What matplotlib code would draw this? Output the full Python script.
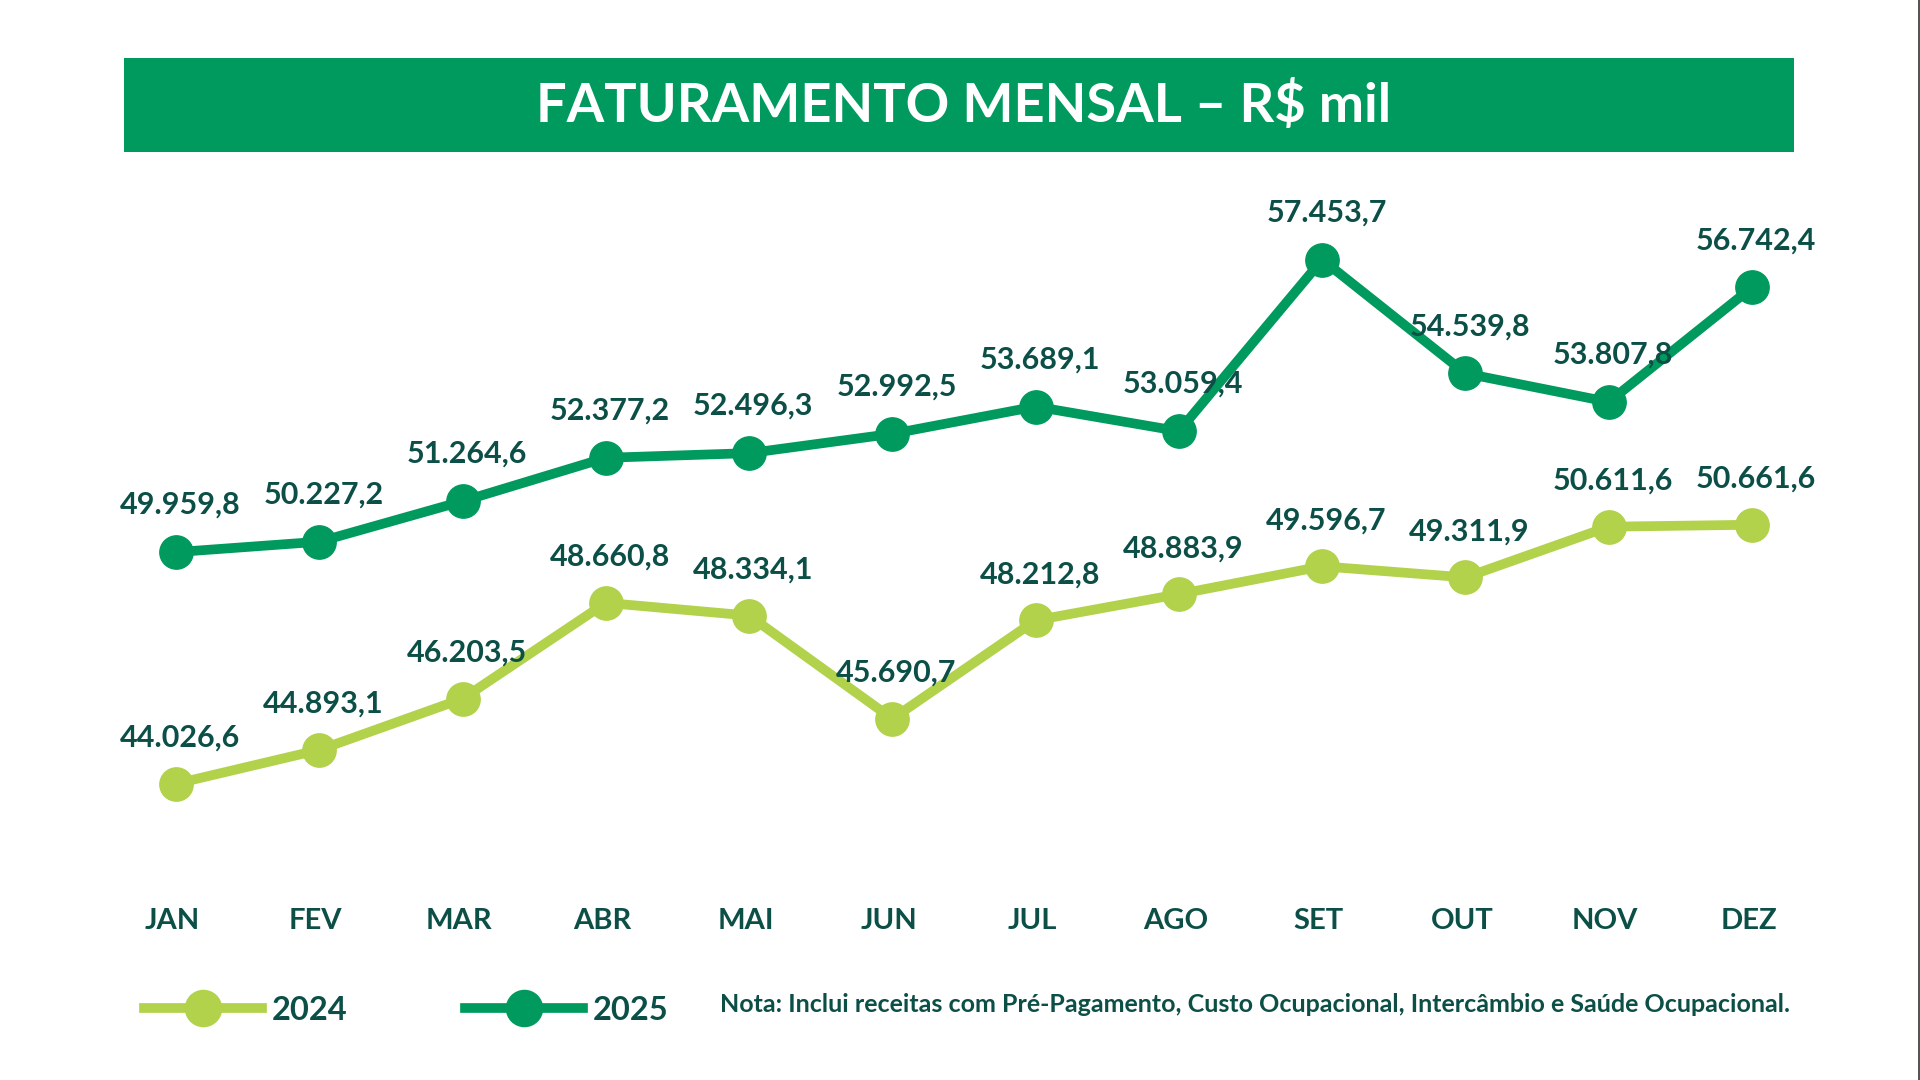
import matplotlib
matplotlib.use("Agg")
import matplotlib.pyplot as plt
from matplotlib.patches import Rectangle
from matplotlib.lines import Line2D

# data (R$ mil)
months = ["JAN", "FEV", "MAR", "ABR", "MAI", "JUN", "JUL", "AGO", "SET", "OUT", "NOV", "DEZ"]
vals_2024 = [44026.6, 44893.1, 46203.5, 48660.8, 48334.1, 45690.7,
             48212.8, 48883.9, 49596.7, 49311.9, 50611.6, 50661.6]
vals_2025 = [49959.8, 50227.2, 51264.6, 52377.2, 52496.3, 52992.5,
             53689.1, 53059.4, 57453.7, 54539.8, 53807.8, 56742.4]
series_names = ["2024", "2025"]

# colours
GREEN = "#009a5e"
LIME = "#b1d24a"
TEXT = "#0b4f47"

plt.rcParams["font.family"] = ["Lato", "DejaVu Sans"]

def fmt_br(v):
    # brazilian style: 49.959,8
    s = f"{v:,.1f}"
    return s.replace(",", "X").replace(".", ",").replace("X", ".")

fig = plt.figure(figsize=(19.2, 10.8), dpi=100)
fig.patch.set_facecolor("white")

# title bar
fig.patches.append(Rectangle((124 / 1920, 1 - 152 / 1080), 1670 / 1920, 94 / 1080,
                             transform=fig.transFigure, facecolor=GREEN,
                             edgecolor="none", zorder=0))
fig.text(964 / 1920, 1 - 105 / 1080, "FATURAMENTO MENSAL – R$ mil", color="white",
         fontsize=39, fontweight="bold", ha="center", va="center")

ax = fig.add_axes([124 / 1920, (1080 - 850) / 1080, 1670 / 1920, 650 / 1080])
ax.set_xlim(-0.363, 11.293)
ax.set_ylim(42328, 58982)
ax.axis("off")

x = list(range(len(months)))
ax.plot(x, vals_2024, color=LIME, lw=7, marker="o", ms=24, zorder=2,
        solid_capstyle="round")
ax.plot(x, vals_2025, color=GREEN, lw=7, marker="o", ms=24, zorder=3,
        solid_capstyle="round")

for xi, v in zip(x, vals_2024):
    ax.annotate(fmt_br(v), (xi, v), xytext=(3, 33), textcoords="offset points",
                ha="center", va="center", fontsize=22, fontweight="bold",
                color=TEXT, zorder=5)
for xi, v in zip(x, vals_2025):
    ax.annotate(fmt_br(v), (xi, v), xytext=(3, 34), textcoords="offset points",
                ha="center", va="center", fontsize=22, fontweight="bold",
                color=TEXT, zorder=5)

# month labels
for xi, m in zip(x, months):
    ax.text(xi - 0.025, -0.109, m, transform=ax.get_xaxis_transform(), ha="center",
            va="center", fontsize=21, fontweight="bold", color=TEXT)

# legend
handles = [Line2D([], [], color=LIME, lw=7, marker="o", ms=26),
           Line2D([], [], color=GREEN, lw=7, marker="o", ms=26)]
leg = fig.legend(handles, series_names, loc="center left",
                 bbox_to_anchor=(144 / 1920, (1080 - 1010) / 1080),
                 ncol=2, frameon=False, fontsize=23.5, handlelength=3.6,
                 handletextpad=0.32, columnspacing=3.6, borderpad=0,
                 borderaxespad=0)
for t in leg.get_texts():
    t.set_color(TEXT)
    t.set_fontweight("bold")

fig.text(720 / 1920, (1080 - 1005) / 1080,
         "Nota: Inclui receitas com Pré-Pagamento, Custo Ocupacional, Intercâmbio e Saúde Ocupacional.",
         ha="left", va="center", fontsize=18, fontweight="bold", color=TEXT)

# thin border on the right edge
fig.add_artist(Line2D([1918.5 / 1920] * 2, [0, 1], transform=fig.transFigure,
                      color="#333333", lw=1.2))

fig.savefig("out.png", dpi=100, facecolor="white")
